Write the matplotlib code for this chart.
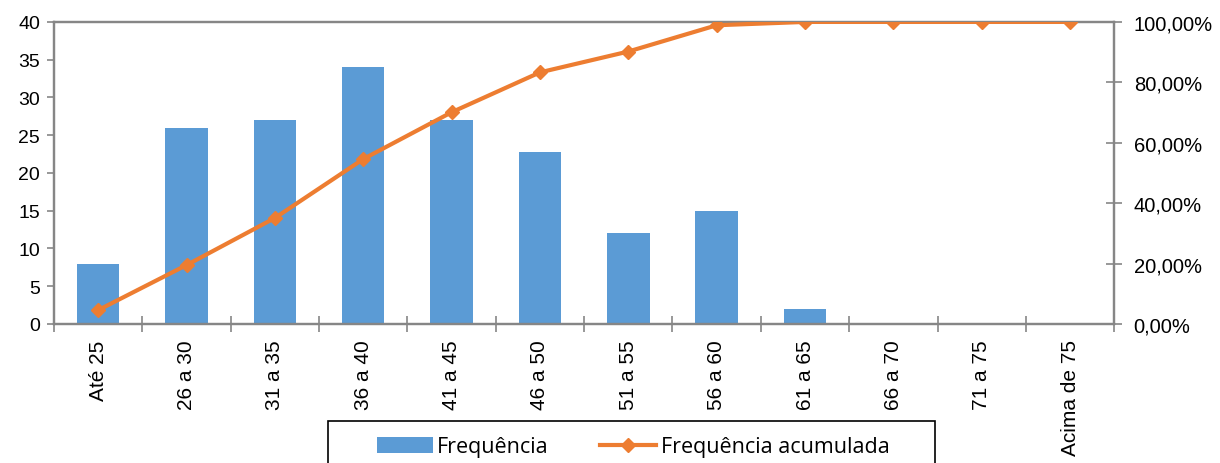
import matplotlib

matplotlib.use("Agg")
import matplotlib.pyplot as plt
from matplotlib.patches import Rectangle
from matplotlib.ticker import FuncFormatter, FixedLocator

CATEGORIES = [
    "Até 25", "26 a 30", "31 a 35", "36 a 40", "41 a 45", "46 a 50",
    "51 a 55", "56 a 60", "61 a 65", "66 a 70", "71 a 75", "Acima de 75",
]
FREQUENCIA = [8, 26, 27, 34, 27, 22.8, 12, 14.9, 2, 0, 0, 0]
ACUMULADA = [4.6, 19.5, 35.1, 54.6, 70.1, 83.3, 90.2, 98.9, 100, 100, 100, 100]

BAR_COLOR = "#5B9BD5"
LINE_COLOR = "#ED7D31"
AXIS_GRAY = "#868686"

plt.rcParams["font.family"] = ["Liberation Sans", "DejaVu Sans"]

fig = plt.figure(figsize=(12.2, 4.64), dpi=100)
ax = fig.add_axes([0.0443, 0.2996, 0.869, 0.651])
ax2 = ax.twinx()

x = list(range(len(CATEGORIES)))
bars = ax.bar(x, FREQUENCIA, width=0.48, color=BAR_COLOR, label="Frequência", zorder=2)
line, = ax2.plot(
    x,
    [v / 100 for v in ACUMULADA],
    color=LINE_COLOR,
    linewidth=3,
    marker="D",
    markersize=7,
    label="Frequência acumulada",
    zorder=3,
)

ax.set_xlim(-0.5, len(CATEGORIES) - 0.5)
ax.set_ylim(0, 40)
ax.set_yticks(range(0, 41, 5))
ax2.set_ylim(0, 1)
ax2.set_yticks([0, 0.2, 0.4, 0.6, 0.8, 1.0])
ax2.yaxis.set_major_formatter(FuncFormatter(lambda v, _: f"{v * 100:.2f}%".replace(".", ",")))

ax.set_xticks(x)
ax.set_xticklabels(CATEGORIES, rotation=90, fontsize=15)
ax.tick_params(axis="x", which="major", length=0, pad=11)
ax.xaxis.set_minor_locator(FixedLocator([i - 0.5 for i in range(len(CATEGORIES) + 1)]))
ax.tick_params(axis="x", which="minor", length=12, color=AXIS_GRAY, width=1.2, direction="inout")
ax.tick_params(axis="y", length=5, color=AXIS_GRAY, width=1.2, labelsize=14, pad=5)
ax2.tick_params(axis="y", length=12, color=AXIS_GRAY, width=1.2, labelsize=14.5, pad=8, direction="inout")

for a in (ax, ax2):
    for spine in a.spines.values():
        spine.set_color(AXIS_GRAY)
        spine.set_linewidth(1.6)

ax2.set_zorder(ax.get_zorder() + 1)
ax2.patch.set_visible(False)

# legend frame, partly cut by the bottom of the figure
fig.patches.append(
    Rectangle(
        (328 / 1220, -0.05),
        (935 - 328) / 1220,
        0.05 + (464 - 422) / 464,
        transform=fig.transFigure,
        fill=False,
        edgecolor="black",
        linewidth=1.2,
    )
)
fig.legend(
    [bars, line],
    ["Frequência", "Frequência acumulada"],
    loc="center left",
    bbox_to_anchor=(366 / 1220, 1 - 448 / 464),
    ncol=2,
    frameon=False,
    borderpad=0,
    handlelength=2.6,
    handletextpad=0.2,
    columnspacing=2.4,
    prop={"family": ["Open Sans", "DejaVu Sans"], "size": 15.5},
)

fig.savefig("out.png", dpi=100)
